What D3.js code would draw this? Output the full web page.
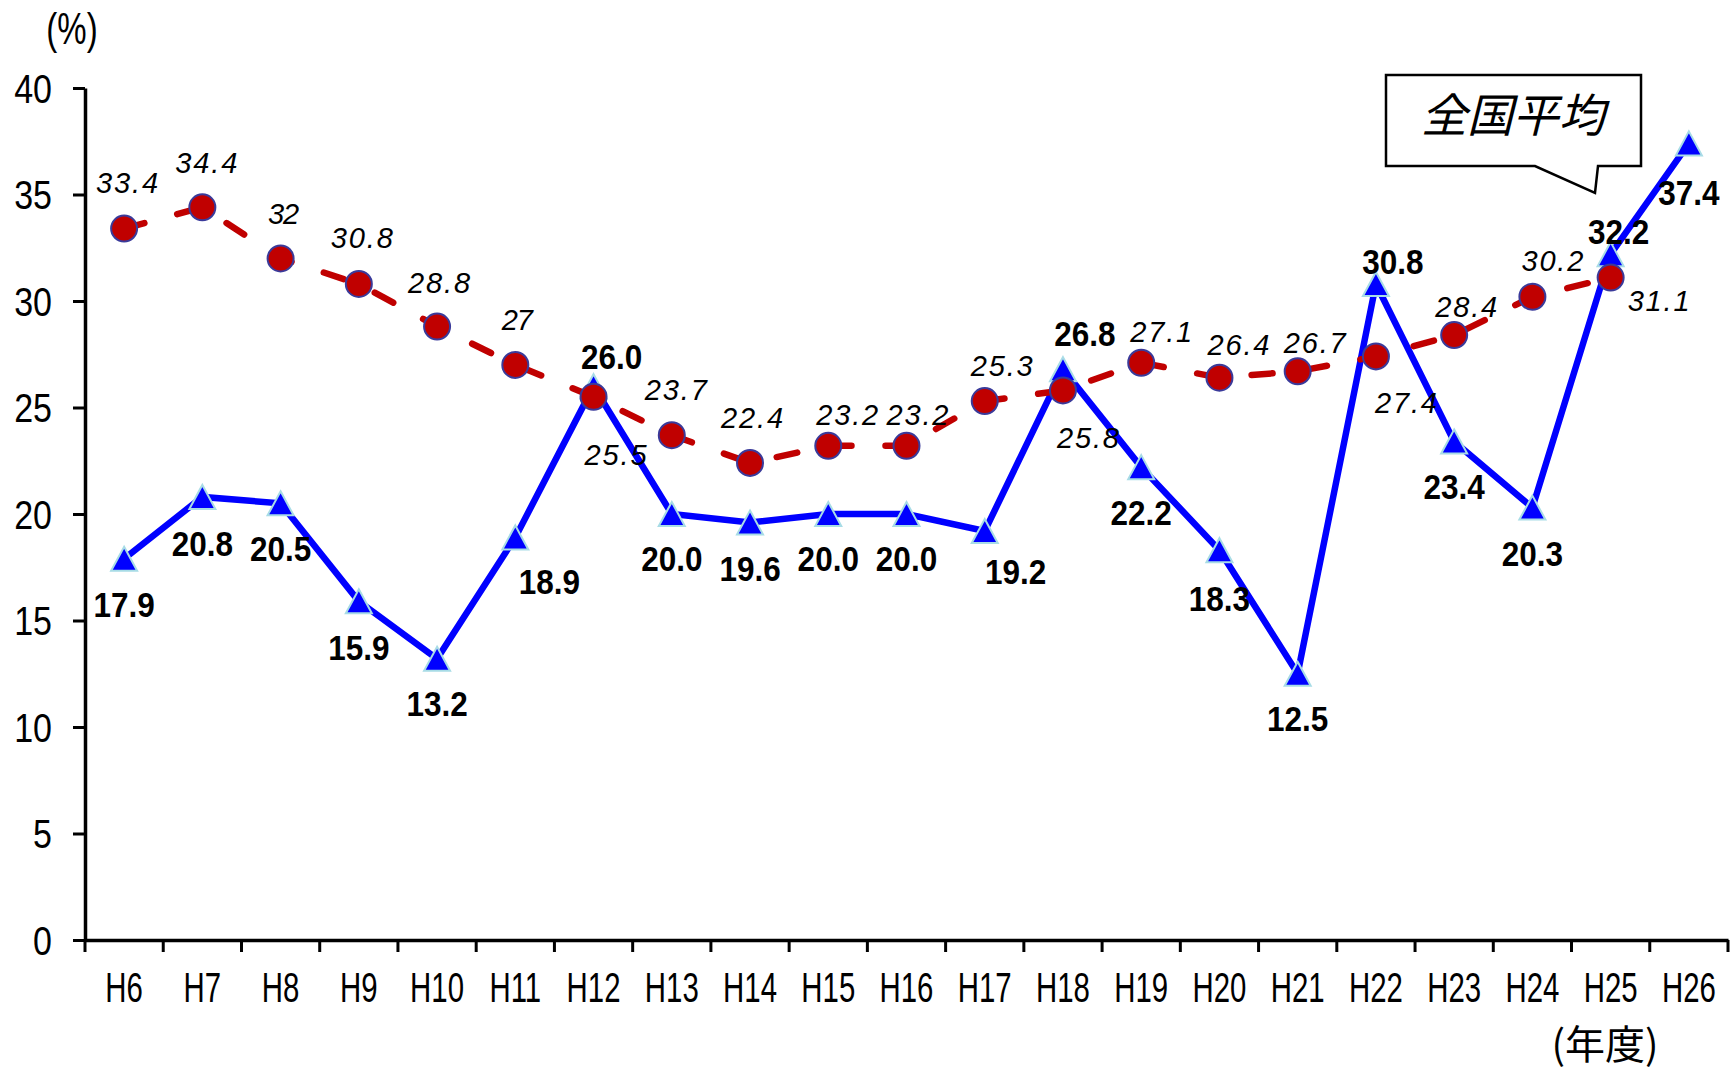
<!DOCTYPE html>
<html>
<head>
<meta charset="utf-8">
<script src="https://cdn.jsdelivr.net/npm/d3@7"></script>
<style>
  html, body { margin: 0; padding: 0; background: #fff; }
  svg { display: block; }
</style>
</head>
<body>
<svg id="chart" width="1730" height="1071"></svg>
<script>
// Fiscal years (Heisei)
const years = ["H6","H7","H8","H9","H10","H11","H12","H13","H14","H15","H16",
               "H17","H18","H19","H20","H21","H22","H23","H24","H25","H26"];

// Prefecture series (solid blue, triangles)
const prefValues = [17.9, 20.8, 20.5, 15.9, 13.2, 18.9, 26.0, 20.0, 19.6, 20.0, 20.0,
                    19.2, 26.8, 22.2, 18.3, 12.5, 30.8, 23.4, 20.3, 32.2, 37.4];
const prefLabels = ["17.9","20.8","20.5","15.9","13.2","18.9","26.0","20.0","19.6","20.0","20.0",
                    "19.2","26.8","22.2","18.3","12.5","30.8","23.4","20.3","32.2","37.4"];

// National average (dashed red, circles); no value for H26
const natValues = [33.4, 34.4, 32, 30.8, 28.8, 27, 25.5, 23.7, 22.4, 23.2, 23.2,
                   25.3, 25.8, 27.1, 26.4, 26.7, 27.4, 28.4, 30.2, 31.1, null];
const natLabels = ["33.4","34.4","32","30.8","28.8","27","25.5","23.7","22.4","23.2","23.2",
                   "25.3","25.8","27.1","26.4","26.7","27.4","28.4","30.2","31.1",""];

const yTicks = [0, 5, 10, 15, 20, 25, 30, 35, 40];

// Label placement relative to each marker (px)
const prefLabelOffset = [[0,46],[0,47],[0,45],[0,46],[0,45],[34,44],[18,-30],[0,44],[0,46],[0,44],[0,44],
                         [31,40],[22,-36],[0,45],[0,48],[0,45],[17,-22],[0,45],[0,46],[8,-23],[0,49]];
const natLabelOffset = [[3,-46],[4,-45],[3,-45],[3,-46],[2,-44],[2,-45],[22,58],[4,-46],[2,-45],[19,-31],[11,-31],
                        [17,-36],[25,47],[20,-31],[19,-33],[17,-29],[30,46],[12,-29],[20,-36],[48,23],[0,0]];

const svg = d3.select("#chart");
const plotLeft = 85, plotRight = 1728, plotTop = 88, plotBottom = 940;

const x = d3.scaleBand().domain(years).range([plotLeft, plotRight]).padding(0);
const y = d3.scaleLinear().domain([0, 40]).range([plotBottom, plotTop]);
const cx = d => x(d) + x.bandwidth() / 2;

const numFont = "'Liberation Sans', Arial, sans-serif";
const jpFont = "'Noto Sans CJK JP', 'Noto Sans CJK SC', sans-serif";

// Y axis (labels narrowed horizontally)
const yAxis = svg.append("g")
  .attr("transform", `translate(${plotLeft},0)`)
  .call(d3.axisLeft(y).tickValues(yTicks).tickSize(12).tickPadding(21).tickSizeOuter(0));
yAxis.select(".domain").attr("stroke", "#000").attr("stroke-width", 3.5);
yAxis.selectAll(".tick line").attr("stroke", "#000").attr("stroke-width", 3);
yAxis.selectAll(".tick text")
  .attr("x", null).attr("dy", null)
  .attr("transform", "translate(-33,14) scale(0.85,1)")
  .attr("font-family", numFont).attr("font-size", 40).attr("fill", "#000");

// X axis: labels centred in bands, ticks on band boundaries
const xAxis = svg.append("g")
  .attr("transform", `translate(0,${plotBottom})`)
  .call(d3.axisBottom(x).tickSize(0).tickSizeOuter(0));
xAxis.select(".domain").attr("stroke", "#000").attr("stroke-width", 3.5);
xAxis.selectAll(".tick text")
  .attr("y", null).attr("dy", null)
  .attr("transform", "translate(0,62) scale(0.7,1)")
  .attr("font-family", numFont).attr("font-size", 42).attr("fill", "#000");
const bounds = years.map(d => x(d)).concat([plotRight]);
xAxis.selectAll("line.bound").data(bounds).join("line")
  .attr("class", "bound")
  .attr("x1", d => d).attr("x2", d => d)
  .attr("y1", 0).attr("y2", 12)
  .attr("stroke", "#000").attr("stroke-width", 3);

// Axis titles
svg.append("text")
  .attr("transform", "translate(72,44) scale(0.75,1)")
  .attr("text-anchor", "middle")
  .attr("font-family", numFont).attr("font-size", 44)
  .text("(%)");
svg.append("text")
  .attr("x", 1605).attr("y", 1059)
  .attr("text-anchor", "middle")
  .attr("font-family", jpFont).attr("font-size", 40)
  .text("(年度)");

// Prefecture series
const prefData = years.map((d, i) => ({ year: d, v: prefValues[i], label: prefLabels[i], off: prefLabelOffset[i] }));
const line = d3.line().defined(d => d.v != null).x(d => cx(d.year)).y(d => y(d.v));

svg.append("path")
  .datum(prefData)
  .attr("d", line)
  .attr("fill", "none").attr("stroke", "#0000ff").attr("stroke-width", 6.5)
  .attr("stroke-linejoin", "miter");

const triW = 26, triH = 24;
svg.selectAll("path.tri").data(prefData).join("path")
  .attr("class", "tri")
  .attr("d", d => {
    const px = cx(d.year), py = y(d.v);
    return `M${px},${py - triH / 2}L${px + triW / 2},${py + triH / 2}L${px - triW / 2},${py + triH / 2}Z`;
  })
  .attr("fill", "#0000ff").attr("stroke", "#a8dce6").attr("stroke-width", 2);

// National average series
const natData = years.map((d, i) => ({ year: d, v: natValues[i], label: natLabels[i], off: natLabelOffset[i] }));
svg.append("path")
  .datum(natData)
  .attr("d", line)
  .attr("fill", "none").attr("stroke", "#c00000").attr("stroke-width", 6.5)
  .attr("stroke-linecap", "round")
  .attr("stroke-dasharray", "21,34");

svg.selectAll("circle.nat").data(natData.filter(d => d.v != null)).join("circle")
  .attr("class", "nat")
  .attr("cx", d => cx(d.year)).attr("cy", d => y(d.v)).attr("r", 13)
  .attr("fill", "#c00000").attr("stroke", "#3a3a9a").attr("stroke-width", 2);

// Value labels
svg.selectAll("text.pref").data(prefData).join("text")
  .attr("class", "pref")
  .attr("transform", d => `translate(${cx(d.year) + d.off[0]},${y(d.v) + d.off[1] + 12.5}) scale(0.9,1)`)
  .attr("text-anchor", "middle")
  .attr("font-family", numFont).attr("font-size", 35).attr("font-weight", "bold")
  .text(d => d.label);

svg.selectAll("text.natlbl").data(natData.filter(d => d.v != null)).join("text")
  .attr("class", "natlbl")
  .attr("x", d => cx(d.year) + d.off[0]).attr("y", d => y(d.v) + d.off[1])
  .attr("dy", "0.36em").attr("text-anchor", "middle")
  .attr("font-family", numFont).attr("font-size", 29).attr("font-style", "italic")
  .attr("textLength", d => d.label.length * 15.5)
  .attr("lengthAdjust", "spacing")
  .text(d => d.label);

// Callout for the national average
const callout = svg.append("g");
callout.append("path")
  .attr("d", "M1386,75L1641,75L1641,166L1598,166L1595,193L1535,166L1386,166Z")
  .attr("fill", "#fff").attr("stroke", "#000").attr("stroke-width", 2.5)
  .attr("stroke-linejoin", "miter");
callout.append("text")
  .attr("transform", "translate(1517,115) skewX(-14)")
  .attr("dy", "0.36em").attr("text-anchor", "middle")
  .attr("font-family", jpFont).attr("font-size", 46)
  .text("全国平均");
</script>
</body>
</html>
